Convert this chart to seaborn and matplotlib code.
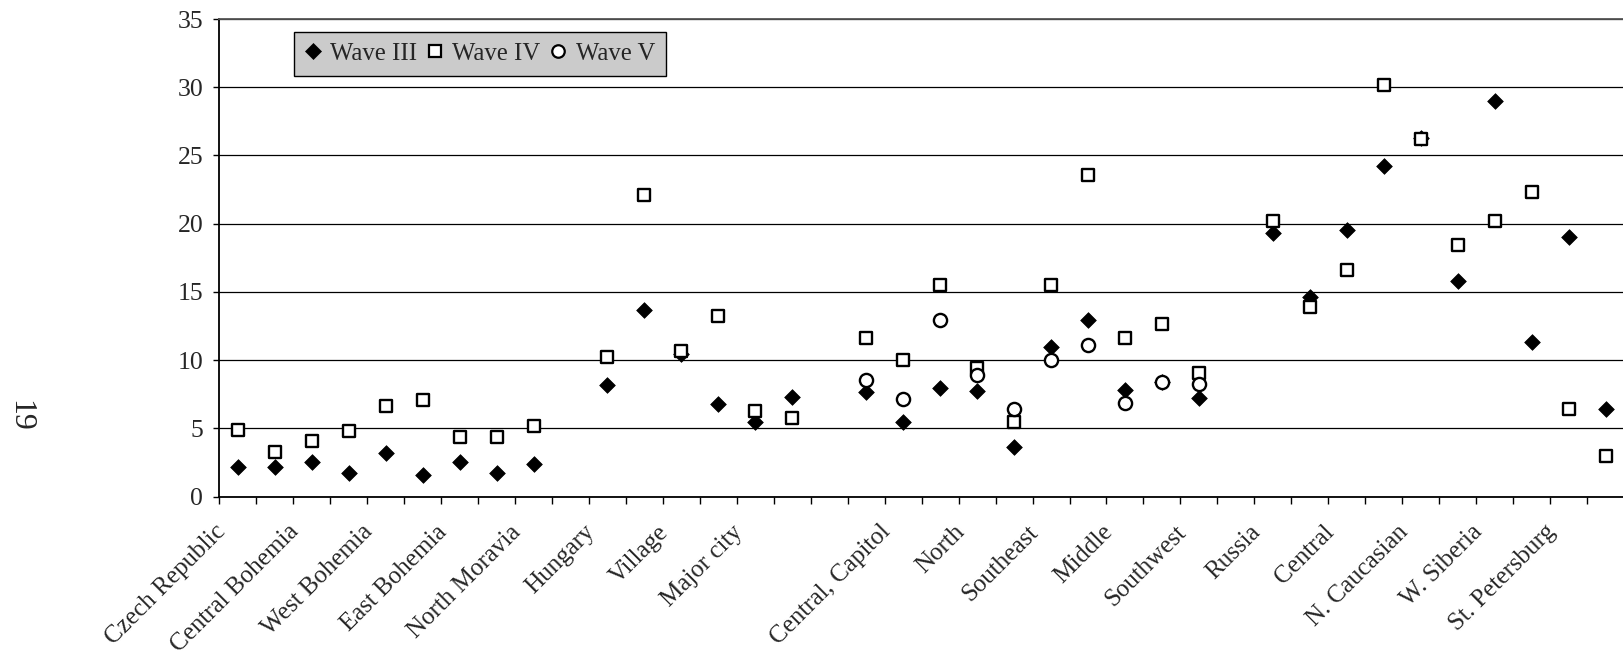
import numpy as np
import matplotlib
matplotlib.use("Agg")
import matplotlib.pyplot as plt
import matplotlib.transforms as mtransforms
from matplotlib.lines import Line2D
import seaborn as sns

# category labels (only every other one is printed on the axis)
labels = [
    "Czech Republic", "", "Central Bohemia", "", "West Bohemia", "", "East Bohemia", "",
    "North Moravia", "", "Hungary", "", "Village", "", "Major city", "", "", "",
    "Central, Capitol", "", "North", "", "Southeast", "", "Middle", "", "Southwest", "",
    "Russia", "", "Central", "", "N. Caucasian", "", "W. Siberia", "", "St. Petersburg", "",
]

nan = np.nan
wave3 = [2.2, 2.2, 2.55, 1.75, 3.2, 1.6, 2.55, 1.75, 2.4, nan,
         8.2, 13.7, 10.45, 6.8, 5.45, 7.3, nan,
         7.7, 5.5, 7.95, 7.75, 3.65, 11.0, 12.95, 7.8, 8.4, 7.25, nan,
         19.35, 14.65, 19.55, 24.2, 26.3, 15.8, 29.0, 11.3, 19.0, 6.45]
wave4 = [4.9, 3.25, 4.05, 4.85, 6.65, 7.1, 4.35, 4.35, 5.2, nan,
         10.2, 22.1, 10.65, 13.25, 6.3, 5.8, nan,
         11.65, 10.0, 15.5, 9.45, 5.5, 15.5, 23.55, 11.65, 12.65, 9.05, nan,
         20.2, 13.9, 16.6, 30.2, 26.2, 18.45, 20.2, 22.3, 6.45, 2.95]
wave5 = [nan] * 17 + [8.55, 7.15, 12.95, 8.9, 6.45, 10.0, 11.15, 6.85, 8.4, 8.25] + [nan] * 11

sns.set_style("ticks")
plt.rcParams['font.family'] = ['Liberation Serif', 'DejaVu Serif']

W, H = 1624, 658
x0, y0, y35 = 219.3, 496.7, 19.0
step = 37.27  # pixels per category

fig = plt.figure(figsize=(W / 100, H / 100), dpi=100)
ax = fig.add_axes([x0 / W, (H - y0) / H, (W - x0) / W, (y0 - y35) / H])

pos = np.arange(len(labels))

sns.scatterplot(x=pos, y=np.array(wave3, dtype=float), marker='D', s=64, color='black',
                edgecolor='black', linewidth=0.5, ax=ax, zorder=3, legend=False)
sns.scatterplot(x=pos, y=np.array(wave4, dtype=float), marker='s', s=86, color='white',
                edgecolor='black', linewidth=1.7, ax=ax, zorder=4, legend=False)
sns.scatterplot(x=pos, y=np.array(wave5, dtype=float), marker='o', s=90, color='white',
                edgecolor='black', linewidth=1.7, ax=ax, zorder=5, legend=False)

ax.set_xlim(-0.5, (W - x0) / step - 0.5)
ax.set_ylim(0, 35)
ax.set_yticks(range(0, 36, 5))
ax.set_xticks(np.arange(-0.5, len(labels), 1.0))
ax.set_xticklabels([])
ax.set_xticks(pos[::2], minor=True)
ax.set_xticklabels(labels[::2], minor=True, rotation=45, ha='right', va='center',
                   rotation_mode='anchor', fontsize=18)
ax.tick_params(axis='x', which='major', direction='out', length=5, width=1, color='black')
ax.tick_params(axis='x', which='minor', length=0, pad=23)
ax.tick_params(axis='y', direction='out', length=4.5, width=1, color='black', labelsize=18.5, pad=7)

shift = mtransforms.ScaledTranslation(-16 / 100, 0, fig.dpi_scale_trans)
for lab in ax.get_xticklabels(minor=True):
    lab.set_transform(lab.get_transform() + shift)

ax.set_axisbelow(True)
ax.yaxis.grid(True, color='black', linewidth=0.9)
ax.xaxis.grid(False)
ax.set_xlabel('')
ax.set_ylabel('')

for side in ['left', 'bottom']:
    ax.spines[side].set_color('black')
    ax.spines[side].set_linewidth(1.3)
ax.spines['top'].set_color('#555555')
ax.spines['top'].set_linewidth(1.3)
ax.spines['right'].set_visible(False)

handles = [
    Line2D([], [], linestyle='none', marker='D', markersize=8.0, markerfacecolor='black',
           markeredgecolor='black', markeredgewidth=0.5, label='Wave III'),
    Line2D([], [], linestyle='none', marker='s', markersize=8.8, markerfacecolor='white',
           markeredgecolor='black', markeredgewidth=1.6, label='Wave IV'),
    Line2D([], [], linestyle='none', marker='o', markersize=9.0, markerfacecolor='white',
           markeredgecolor='black', markeredgewidth=1.6, label='Wave V'),
]
leg = ax.legend(handles=handles, loc='upper left', bbox_to_anchor=(0.0534, 0.9734), ncol=3,
                frameon=True, fancybox=False, borderaxespad=0, borderpad=0.45,
                handlelength=0.6, handletextpad=0.4, columnspacing=0.42, fontsize=17.8,
                framealpha=1, facecolor='#cbcbcb', edgecolor='black')
leg.get_frame().set_linewidth(1.0)

# page number of the source document
fig.text(20 / W, 1 - 416 / H, '19', rotation=-90, fontsize=23, ha='center', va='center')

fig.savefig('out.png', dpi=100)
